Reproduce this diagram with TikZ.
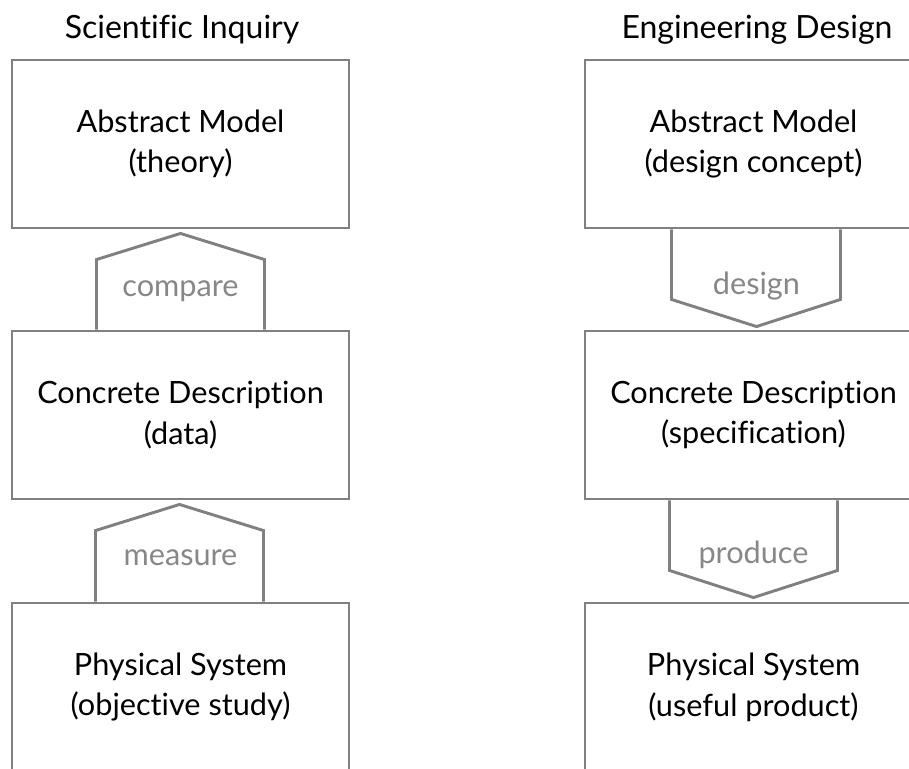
\documentclass[tikz,border=0pt]{standalone}
\usepackage{fontspec}
\setmainfont{Lato}[Ligatures=NoCommon]
\usetikzlibrary{calc}
\definecolor{boxgray}{rgb}{0.5,0.5,0.5}
\definecolor{lblgray}{rgb}{0.53,0.53,0.53}

\tikzset{
  box/.style={draw=boxgray,line width=2.2pt,minimum width=252.75pt,minimum height=126pt,
    align=center,font=\fontsize{23}{30.5}\selectfont},
  link/.style={draw=boxgray,line width=2.2pt},
  lbl/.style={text=lblgray,anchor=base,font=\fontsize{23}{29}\selectfont},
  heading/.style={anchor=base,font=\fontsize{24}{29}\selectfont}
}

\begin{document}
\begin{tikzpicture}[x=0.75pt,y=0.75pt]
\useasboundingbox (0,0) rectangle (909,768);
\clip (0,0) rectangle (909,768);
\node[heading] (sci) at (182,729) {Scientific Inquiry};
\node[heading] (eng) at (757,729) {Engineering Design};
% left column
\node[box] (theory) at (180.5,624) {Abstract Model\\(theory)};
\node[box] (data) at (180.5,353) {Concrete Description\\(data)};
\node[box] (study) at (180.5,81) {Physical System\\(objective study)};
% right column
\node[box] (concept) at (753.5,624) {Abstract Model\\(design concept)};
\node[box] (spec) at (753.5,353) {Concrete Description\\(specification)};
\node[box] (product) at (753.5,81) {Physical System\\(useful product)};
% up links
\draw[link] ($(data.north)+(-84,0)$) -- ++(0,70) -- ($(theory.south)+(0,-4)$)
  -- ($(data.north)+(84,70)$) -- ($(data.north)+(84,0)$);
\node[lbl] (cmp) at ($(data.north)+(0,33)$) {compare};
\draw[link] ($(study.north)+(-85,0)$) -- ++(0,71) -- ($(data.south)+(-1,-4)$)
  -- ($(study.north)+(83,71)$) -- ($(study.north)+(83,0)$);
\node[lbl] (msr) at ($(study.north)+(0,36)$) {measure};
% down links
\draw[link] ($(concept.south)+(-82,0)$) -- ++(0,-70) -- ($(spec.north)+(3,3)$)
  -- ($(concept.south)+(87,-70)$) -- ($(concept.south)+(87,0)$);
\node[lbl] (dsg) at ($(concept.south)+(3,-65)$) {design};
\draw[link] ($(spec.south)+(-84,0)$) -- ++(0,-70) -- ($(product.north)+(0,4)$)
  -- ($(spec.south)+(84,-70)$) -- ($(spec.south)+(84,0)$);
\node[lbl] (prd) at ($(spec.south)+(0,-63)$) {produce};
\end{tikzpicture}
\end{document}
